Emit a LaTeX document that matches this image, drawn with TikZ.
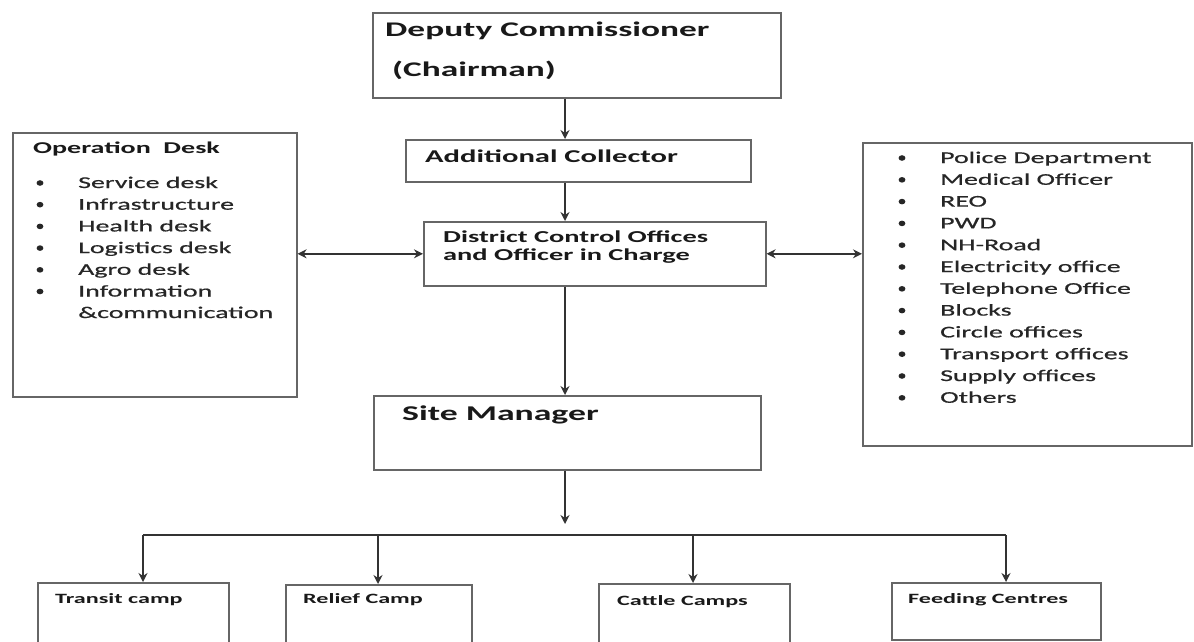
\documentclass[tikz,border=0pt]{standalone}
\usepackage{fontspec}
\setmainfont{Carlito}[FakeStretch=1.7]
\newfontfamily\listfont{Carlito}[FakeStretch=1.7,FakeBold=0.7]
\usetikzlibrary{arrows.meta}

\begin{document}
\begin{tikzpicture}[x=1pt,y=-1pt,>={Stealth[length=9pt,width=9pt]},
    box/.style={draw=black!60,line width=1.6pt,anchor=north west,inner sep=0pt},
    head/.style={anchor=base west,inner sep=0pt,text=black!90},
    item/.style={anchor=base west,inner sep=0pt,text=black!85,font=\listfont\fontsize{16.4}{20}\selectfont},
    dot/.style={black!85},
    link/.style={black!80,line width=1.4pt}]
        \useasboundingbox (0,0) rectangle (1194,642);
        \clip (0,0) rectangle (1194,642);

        % boxes
        \node[box,minimum width=408,minimum height=85] (dc) at (372,12) {};
        \node[box,minimum width=345,minimum height=42] (ac) at (405,139) {};
        \node[box,minimum width=342,minimum height=64] (dco) at (423,221) {};
        \node[box,minimum width=284,minimum height=264] (od) at (12,132) {};
        \node[box,minimum width=329,minimum height=303] (ol) at (862,142) {};
        \node[box,minimum width=387,minimum height=74] (sm) at (373,395) {};
        \node[box,minimum width=191,minimum height=90] (tc) at (37,582) {};
        \node[box,minimum width=186,minimum height=90] (rc) at (285,584) {};
        \node[box,minimum width=191,minimum height=90] (cc) at (598,583) {};
        \node[box,minimum width=209,minimum height=57] (fc) at (891,582) {};

        % headings
        \node[head,font=\fontsize{20.8}{24}\selectfont\bfseries] (dct) at (385,37) {Deputy Commissioner};
        \node[head,font=\fontsize{20.8}{24}\selectfont\bfseries] (dcc) at (392,77) {(Chairman)};
        \node[head,font=\fontsize{18}{22}\selectfont\bfseries] (act) at (425,162) {Additional Collector};
        \node[head,font=\fontsize{16.7}{20}\selectfont\bfseries] (dcot) at (443,242) {District Control Offices};
        \node[head,font=\fontsize{16.7}{20}\selectfont\bfseries] (dcob) at (443,260) {and Officer in Charge};
        \node[head,font=\fontsize{16.5}{20}\selectfont\bfseries] (odt) at (33,153) {Operation\ \ Desk};
        \node[head,font=\fontsize{21}{24}\selectfont\bfseries] (smt) at (402,420) {Site Manager};
        \node[head,font=\fontsize{14.2}{18}\selectfont\bfseries] (tct) at (55,603) {Transit camp};
        \node[head,font=\fontsize{14.2}{18}\selectfont\bfseries] (rct) at (303,603) {Relief Camp};
        \node[head,font=\fontsize{14.2}{18}\selectfont\bfseries] (cct) at (617,605) {Cattle Camps};
        \node[head,font=\fontsize{14.2}{18}\selectfont\bfseries] (fct) at (908,603) {Feeding Centres};

        % lists
        \foreach \t [count=\i] in {Service desk,Infrastructure,Health desk,Logistics desk,Agro desk,Information} {
            \fill[dot] (40,{188+21.7*(\i-1)-5}) ellipse (3.4pt and 2.8pt);
            \node[item] (od\i) at (78,{188+21.7*(\i-1)}) {\t};
        }
        \node[item] (od7) at (78,318) {\&communication};
        \foreach \t [count=\i] in {Police Department,Medical Officer,REO,PWD,NH-Road,Electricity office,
                Telephone Office,Blocks,Circle offices,Transport offices,Supply offices,Others} {
            \fill[dot] (902,{163+21.8*(\i-1)-5}) ellipse (3.4pt and 2.8pt);
            \node[item] (ol\i) at (940,{163+21.8*(\i-1)}) {\t};
        }

        % connectors
        \coordinate (spine) at (565,0);
        \coordinate (hub) at (565,524);
        \coordinate (b1) at (143,535);
        \coordinate (b2) at (378,535);
        \coordinate (b3) at (693,535);
        \coordinate (b4) at (1006,535);
        \path[link,->] (dc.south -| spine) edge (ac.north -| spine)
                       (ac.south -| spine) edge (dco.north -| spine)
                       (dco.south -| spine) edge (sm.north -| spine)
                       (sm.south -| spine) edge (hub);
        \path[link,<->] (od.east |- dco.west) edge (dco.west)
                        (dco.east) edge (ol.west |- dco.east);
        \draw[link] (b1) -- (b4);
        \path[link,->] (b1) edge (b1 |- tc.north)
                       (b2) edge (b2 |- rc.north)
                       (b3) edge (b3 |- cc.north)
                       (b4) edge (b4 |- fc.north);
\end{tikzpicture}
\end{document}
